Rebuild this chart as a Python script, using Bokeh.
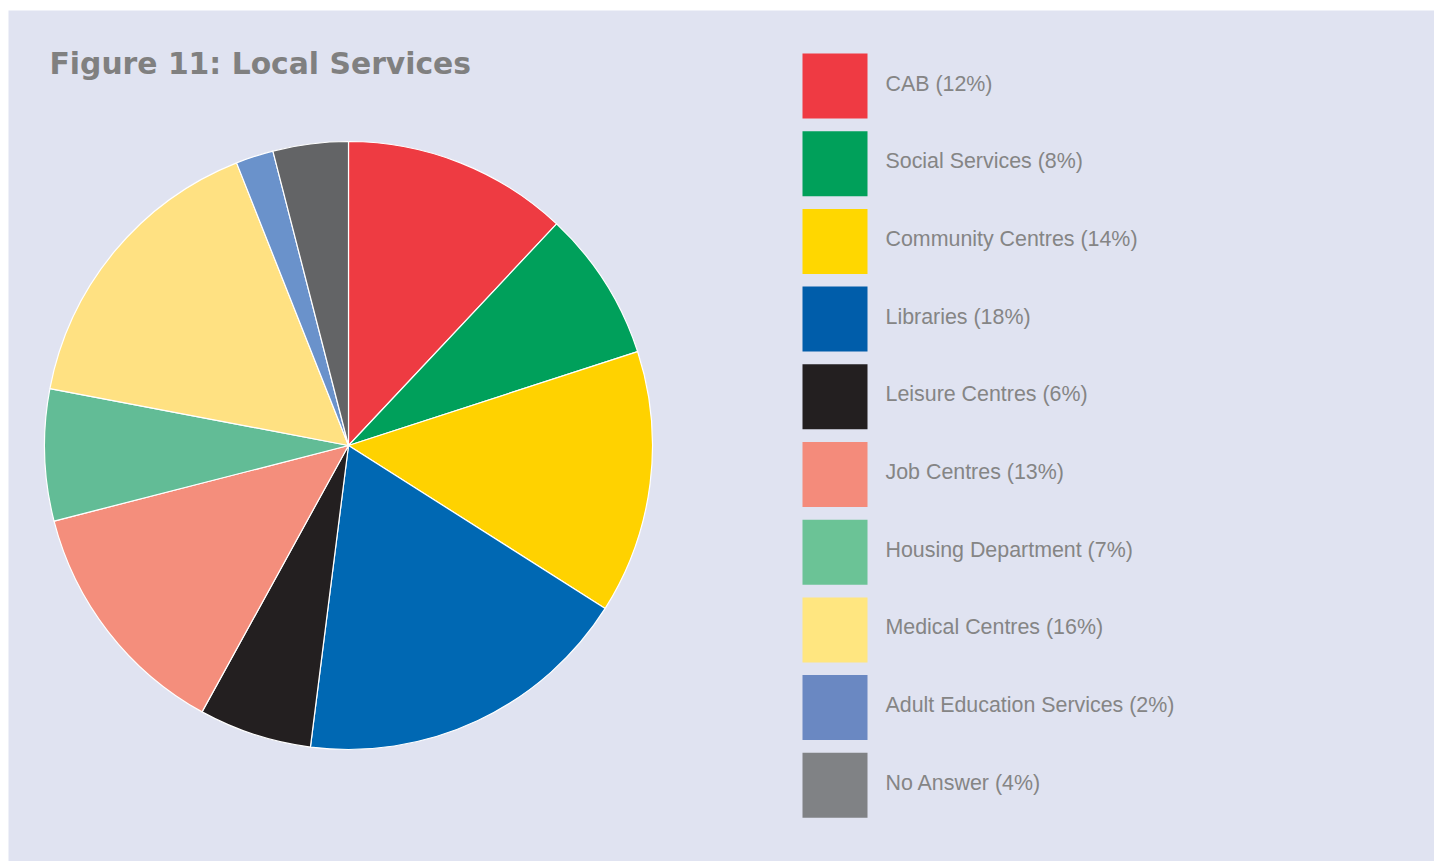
import math
from bokeh.plotting import figure
from bokeh.models import Range1d, ColumnDataSource
from bokeh.core.properties import value
from bokeh.embed import file_html
from bokeh.resources import INLINE

categories = ["CAB", "Social Services", "Community Centres", "Libraries", "Leisure Centres",
              "Job Centres", "Housing Department", "Medical Centres",
              "Adult Education Services", "No Answer"]
percents = [12, 8, 14, 18, 6, 13, 7, 16, 2, 4]
pie_colors = ["#EE3B42", "#00A05B", "#FFD200", "#0068B3", "#231F20",
              "#F48E7C", "#62BC96", "#FFE182", "#6A92CB", "#636466"]
legend_colors = ["#EF3A43", "#00A05A", "#FFD700", "#005DAA", "#231F20",
                 "#F48B7B", "#6BC396", "#FFE680", "#6A88C2", "#808285"]
title_text = "Figure 11: Local Services"

W, H = 1434, 861
OX, OY = 8, 10
FW, FH = W - OX, H - OY
BG = "#E0E3F1"

p = figure(width=W, height=H, output_backend="svg", toolbar_location=None,
           x_range=Range1d(0, FW), y_range=Range1d(0, FH),
           min_border=0, min_border_left=OX, min_border_top=OY,
           background_fill_color=BG, border_fill_color="white",
           outline_line_color=None)
p.axis.visible = False
p.grid.visible = False

def py(page_y):
    return H - page_y

def px(page_x):
    return page_x - OX

# pie
total = sum(percents)
starts, ends = [], []
cum = 0.0
for v in percents:
    starts.append(math.pi / 2 - 2 * math.pi * cum / total)
    cum += v
    ends.append(math.pi / 2 - 2 * math.pi * cum / total)
cx, cy, r = px(348), py(445), 304
pie_src = ColumnDataSource(dict(x=[cx] * len(percents), y=[cy] * len(percents),
                                start=starts, end=ends, color=pie_colors))
p.wedge(x="x", y="y", radius=r, start_angle="start", end_angle="end",
        direction="clock", fill_color="color", line_color="white", line_width=1.2,
        source=pie_src)

# legend
top0, step, size = 53, 77.7, 65
lx = px(802)
ys = [py(top0 + size / 2 + i * step) for i in range(len(categories))]
labels = [f"{c} ({v}%)" for c, v in zip(categories, percents)]
leg_src = ColumnDataSource(dict(x=[lx + size / 2] * len(categories), y=ys,
                                color=legend_colors, label=labels,
                                tx=[px(885)] * len(categories),
                                ty=[y + 2.5 for y in ys]))
p.rect(x="x", y="y", width=size, height=size, fill_color="color", line_color=None,
       source=leg_src)
p.text(x="tx", y="ty", text="label", text_font=value("Liberation Sans"),
       text_font_size="21.4px", text_color="#858585", text_baseline="middle",
       text_align="left", source=leg_src)

# title
p.text(x=[px(49)], y=[py(63)], text=[title_text], text_font=value("DejaVu Sans"),
       text_font_size="29.8px", text_font_style="bold", text_color="#808080",
       text_baseline="alphabetic", text_align="left")

open("out.html", "w").write(file_html(p, INLINE))
